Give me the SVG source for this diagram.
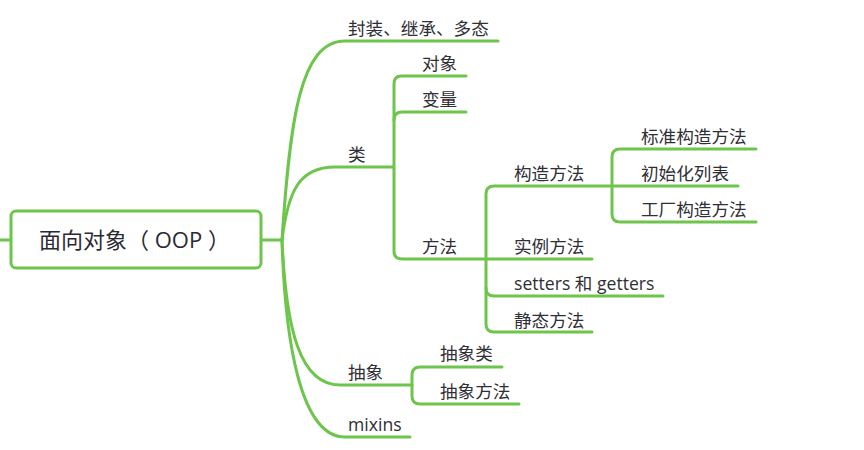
<svg xmlns="http://www.w3.org/2000/svg" width="864" height="450" viewBox="0 0 864 450">
<style>
.c{fill:none;stroke:#6dc64b;stroke-width:3;stroke-linecap:round}
.t{font-family:"Open Sans","Noto Sans CJK SC",sans-serif;font-size:17.6px;fill:#2f2f36}
.r{font-family:"Open Sans","Noto Sans CJK SC",sans-serif;font-size:22px;fill:#2a2a33}
</style>
<rect width="864" height="450" fill="#fff"/>
<g id="connectors">
<path class="c" d="M0,240 H10"/>
<path class="c" d="M261,240 H282"/>
<path class="c" d="M282,240 C290,120 300,41 345,41 H498"/>
<path class="c" d="M282,240 C288,190 300,167 335,167 H393"/>
<path class="c" d="M282,240 C286,330 300,385 340,385 H412"/>
<path class="c" d="M282,240 C285,340 300,437 345,437 H410"/>
<path class="c" d="M401,76 H466 M401,76 Q394,76 394,84 V251 Q394,259 402,259 H486"/>
<path class="c" d="M394,120 Q394,112 402,112 H466"/>
<path class="c" d="M494,186 H612 M494,186 Q486,186 486,194 V324 Q486,332 494,332 H592"/>
<path class="c" d="M486,259 H592"/>
<path class="c" d="M486,288 Q486,296 494,296 H663"/>
<path class="c" d="M620,149 H756 M620,149 Q612,149 612,157 V214 Q612,222 620,222 H756"/>
<path class="c" d="M612,186 H738"/>
<path class="c" d="M420,367 H502 M420,367 Q412,367 412,375 V396 Q412,404 420,404 H519"/>
</g>
<g id="root">
<rect x="11" y="211" width="250" height="57" rx="5" fill="#fff" stroke="#6dc64b" stroke-width="3"/>
<text class="r" x="39" y="248">面向对象（ OOP ）</text>
</g>
<g id="n-fengzhuang"><text class="t" x="348" y="35">封装、继承、多态</text></g>
<g id="n-lei"><text class="t" x="348" y="161">类</text></g>
<g id="n-duixiang"><text class="t" x="422" y="70">对象</text></g>
<g id="n-bianliang"><text class="t" x="422" y="106">变量</text></g>
<g id="n-fangfa"><text class="t" x="422" y="253">方法</text></g>
<g id="n-gouzao"><text class="t" x="514" y="180">构造方法</text></g>
<g id="n-biaozhun"><text class="t" x="641" y="143">标准构造方法</text></g>
<g id="n-chushihua"><text class="t" x="641" y="180">初始化列表</text></g>
<g id="n-gongchang"><text class="t" x="641" y="216">工厂构造方法</text></g>
<g id="n-shili"><text class="t" x="514" y="253">实例方法</text></g>
<g id="n-setters"><text class="t" x="514" y="290">setters 和 getters</text></g>
<g id="n-jingtai"><text class="t" x="514" y="327">静态方法</text></g>
<g id="n-chouxiang"><text class="t" x="348" y="379">抽象</text></g>
<g id="n-chouxianglei"><text class="t" x="440" y="360">抽象类</text></g>
<g id="n-chouxiangfangfa"><text class="t" x="440" y="398">抽象方法</text></g>
<g id="n-mixins"><text class="t" x="348" y="431">mixins</text></g>
</svg>
